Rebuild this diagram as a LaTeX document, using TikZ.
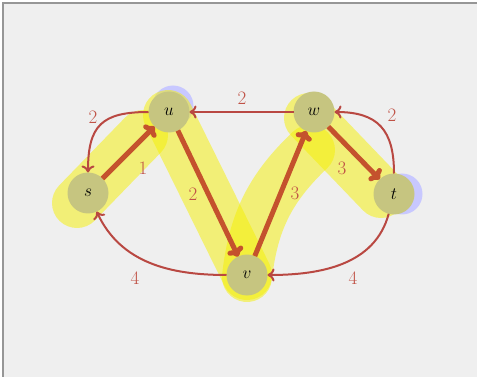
\documentclass[tikz,border=0pt]{standalone}
\usetikzlibrary{arrows.meta,calc}
\definecolor{bg}{RGB}{239,239,239}
\definecolor{framegray}{RGB}{150,150,150}
\definecolor{hl}{RGB}{245,240,0}
\definecolor{blueish}{RGB}{200,200,255}
\definecolor{nodeolive}{RGB}{198,197,128}
\definecolor{thinred}{RGB}{185,72,66}
\definecolor{thickred}{RGB}{196,82,45}
\definecolor{lblred}{RGB}{192,82,70}
\tikzset{
  vert/.style={circle,minimum size=41pt,inner sep=0pt,outer sep=0pt,fill=nodeolive,font=\fontsize{19}{22}\selectfont},
  hlstroke/.style={draw=hl,line width=50pt,line cap=round,draw opacity=0.5},
  thinedge/.style={draw=thinred,line width=2pt,-{Computer Modern Rightarrow[length=7pt,width=13pt]}},
  flowedge/.style={draw=thickred,line width=5pt,-{Computer Modern Rightarrow[length=9pt,width=17pt]}},
  lbl/.style={text=lblred,inner sep=0pt,font=\fontsize{19}{22}\selectfont}
}
\begin{document}
\begin{tikzpicture}[x=1pt,y=1pt]
\useasboundingbox (0,0) rectangle (477,-377);
\fill[white] (0,0) rectangle (477,-377);
\fill[bg] (3,-3) rectangle (477,-377);
\draw[framegray,line width=1.5pt] (3,-377) -- (3,-3) -- (477,-3);

% node positions
\coordinate (ps) at (88,-193);
\coordinate (pu) at (169,-112);
\coordinate (pw) at (314,-112);
\coordinate (pt) at (394,-194);
\coordinate (pv) at (247,-275);

% blue halos
\fill[blueish] ($(pu)+(4,6)$) circle (20.5);
\fill[blueish] ($(pt)+(8,0)$) circle (20.5);

% yellow highlights
\draw[hlstroke] ($(ps)+(-11,-10)$) -- ($(pu)+(-26,-23)$);
\draw[hlstroke] ($(pu)+(-1,-3)$) -- ($(pv)+(0,0)$);
\draw[hlstroke] ($(pv)+(0,-2)$) to[bend left=20] ($(pw)+(-4,-38)$);
\draw[hlstroke] ($(pw)+(-5,-6)$) -- ($(pt)+(-13,1)$);

% nodes
\node[vert] (s) at (ps) {$s$};
\node[vert] (u) at (pu) {$u$};
\node[vert] (w) at (pw) {$w$};
\node[vert] (t) at (pt) {$t$};
\node[vert] (v) at (pv) {$v$};

% thin edges
\draw[thinedge] (u) to[out=180,in=90,looseness=1.4] (s);
\draw[thinedge] (w) -- (u);
\draw[thinedge] (t) to[out=90,in=0,looseness=1.3] (w);
\draw[thinedge] (t) to[out=-105,in=0] (v);
\draw[thinedge] (v) to[out=180,in=-65] (s);

% flow edges
\draw[flowedge] (s) -- (u);
\draw[flowedge] (u) -- (v);
\draw[flowedge] (v) -- (w);
\draw[flowedge] (w) -- (t);

% labels
\node[lbl] (l1) at (93,-117) {2};
\node[lbl] (l2) at (242,-98) {2};
\node[lbl] (l3) at (392,-115) {2};
\node[lbl] (l4) at (143,-168) {1};
\node[lbl] (l5) at (193,-194) {2};
\node[lbl] (l6) at (295,-193) {3};
\node[lbl] (l7) at (342,-168) {3};
\node[lbl] (l8) at (353,-278) {4};
\node[lbl] (l9) at (135,-278) {4};
\end{tikzpicture}
\end{document}
